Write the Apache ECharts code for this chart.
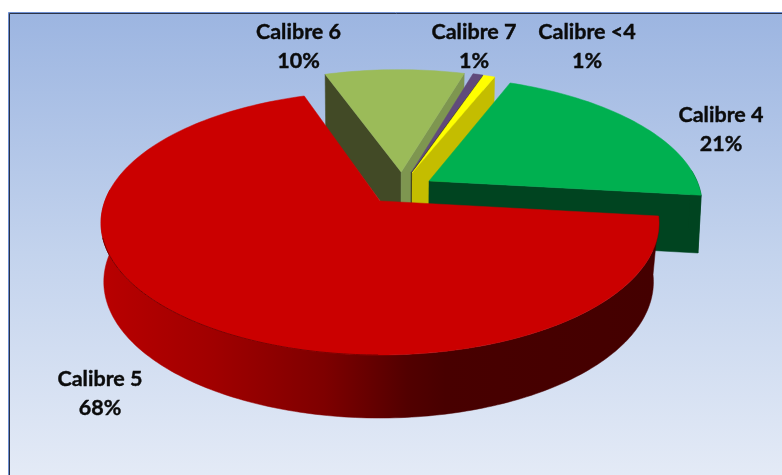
<!DOCTYPE html>
<html><head><meta charset="utf-8">
<style>html,body{margin:0;padding:0;background:#fff}#c{width:782px;height:475px}</style>
<script src="https://cdn.jsdelivr.net/npm/echarts@6/dist/echarts.min.js"></script>
</head><body><div id="c"></div>
<script>
// data (clockwise order)
const categories = ['Calibre <4', 'Calibre 4', 'Calibre 5', 'Calibre 6', 'Calibre 7'];
const shares = [0.8, 20.7, 68.0, 9.8, 0.7];

// styling / layout
const firstAngle = 19.2;
const topColors = ['#FFFF00', '#00B050', '#CB0000', '#9BBB59', '#604A7B'];
const wallColors = [
  ['#8a8400', '#C4BD00'], ['#004a24', '#004420'], ['#5a0000', '#5a0000'],
  ['#424A26', '#7E9650'], ['#2b2238', '#15101c']
];
const explode = [[0.121, -0.226], [0.183, -0.16], [0, 0], [0.08, -0.234], [0.118, -0.23]];
const labelAt = [[587, 46.5], [721, 129.5], [100, 393.5], [298.5, 46.5], [474, 46.5]];
const drawOrder = [3, 4, 0, 1, 2];
const E = { cx: 380, cy: 223, rx: 279, ry: 132, t: 0.167, depth: 58, tDepth: 0.08, narrow: 0.99, narrowRed: 0.98 };

function project(u, v) {
  const d = 1 - E.t * v;
  const X = u * Math.sqrt(1 - E.t * E.t) / d, Y = (v - E.t) / d;
  return [E.cx + E.rx * X, E.cy + E.ry * Y];
}
function lower(u, v, n) {
  const p = project(u, v);
  return [E.cx + (p[0] - E.cx) * (n || E.narrow), p[1] + E.depth / (1 - E.tDepth * v)];
}
function rim(deg, off) {
  const a = deg * Math.PI / 180;
  return [off[0] + Math.sin(a), off[1] - Math.cos(a)];
}
const total = shares.reduce((a, b) => a + b, 0);
let running = firstAngle;
const slices = shares.map((s, i) => {
  const a0 = running, a1 = running + s / total * 360;
  running = a1;
  return { a0, a1, i };
});
const sideFill = { type: 'linear', x: 104, y: 0, x2: 655, y2: 0, global: true, colorStops: [
  { offset: 0, color: '#B80000' }, { offset: 0.2, color: '#A00000' }, { offset: 0.4, color: '#7E0000' },
  { offset: 0.55, color: '#520000' }, { offset: 0.62, color: '#480000' }, { offset: 1, color: '#440000' }
] };

function renderSlice(params, api) {
  const s = slices[api.value(0)], off = explode[s.i];
  const poly = (pts, fill, z2) => ({ type: 'polygon', z2, shape: { points: pts }, style: { fill, stroke: fill, lineWidth: 0.5 } });
  const kids = [];
  const steps = Math.max(4, Math.ceil((s.a1 - s.a0) / 1.5));
  const topPts = [project(off[0], off[1])];
  for (let k = 0; k <= steps; k++) {
    const r = rim(s.a0 + (s.a1 - s.a0) * k / steps, off);
    topPts.push(project(r[0], r[1]));
  }
  const base = 10 + drawOrder.indexOf(s.i) * 10;
  const wall = (deg, fill, z2) => {
    const r = rim(deg, off);
    return poly([project(off[0], off[1]), project(r[0], r[1]), lower(r[0], r[1]), lower(off[0], off[1])], fill, z2);
  };
  const faces = (deg, sign) => { // outward normal of a cut wall must face the viewer
    const n = (deg + sign * 90) * Math.PI / 180;
    return -Math.cos(n) > 0;
  };
  if (faces(s.a0, -1)) kids.push(wall(s.a0, wallColors[s.i][0], base + 1));
  if (faces(s.a1, 1)) kids.push(wall(s.a1, wallColors[s.i][1], base + 2));
  const from = Math.max(s.a0, 85), to = Math.min(s.a1, 275);
  if (to > from) {
    const up = [], low = [];
    const rimLine = [];
    for (let d = from; d <= to + 1e-6; d += (to - from) / Math.ceil(to - from)) {
      const r = rim(d, off);
      up.push(project(r[0], r[1]));
      const narrow = s.i === 2 && r[0] > 0 ? E.narrowRed : E.narrow;
      low.unshift(lower(r[0], r[1], narrow));
      if (d > 180 && d < 255) rimLine.push(project(r[0], r[1]));
    }
    kids.push(poly(up.concat(low), s.i === 2 ? sideFill : wallColors[s.i][1], base + 3));
    if (s.i === 2) kids.push({ type: 'polyline', z2: base + 5, shape: { points: rimLine }, style: { fill: null, stroke: '#7a0000', lineWidth: 1 } });
  }
  kids.push(poly(topPts, topColors[s.i], base + 4));
  const at = labelAt[s.i];
  kids.push({ type: 'text', z2: 100, style: {
    x: at[0], y: at[1], align: 'center', verticalAlign: 'middle',
    text: categories[s.i] + '\n' + Math.round(shares[s.i]) + '%',
    fill: '#0b0b0b', stroke: '#0b0b0b', lineWidth: 0.4, font: 'bold 21.5px Lato, sans-serif', lineHeight: 29
  } });
  return { type: 'group', children: kids };
}

const chart = echarts.init(document.getElementById('c'), null, { renderer: 'canvas' });
chart.setOption({
  animation: false,
  graphic: [
    { type: 'rect', silent: true, z: 0,
      shape: { x: 8.5, y: 12.5, width: 790, height: 480 },
      style: { stroke: '#6D8FD2', lineWidth: 1, fill: { type: 'linear', x: 0, y: 0, x2: 0, y2: 1, colorStops: [
        { offset: 0, color: '#9CB5E1' }, { offset: 0.5, color: '#C3D3ED' }, { offset: 1, color: '#E6ECF7' }
      ] } } },
    { type: 'rect', silent: true, z: 1,
      shape: { x: 9.5, y: 13.5, width: 790, height: 480 },
      style: { stroke: '#2b3348', lineWidth: 1, fill: null } }
  ],
  series: [{
    type: 'custom', coordinateSystem: 'none', silent: true,
    renderItem: renderSlice,
    data: drawOrder.map(i => [i])
  }]
});
</script></body></html>
